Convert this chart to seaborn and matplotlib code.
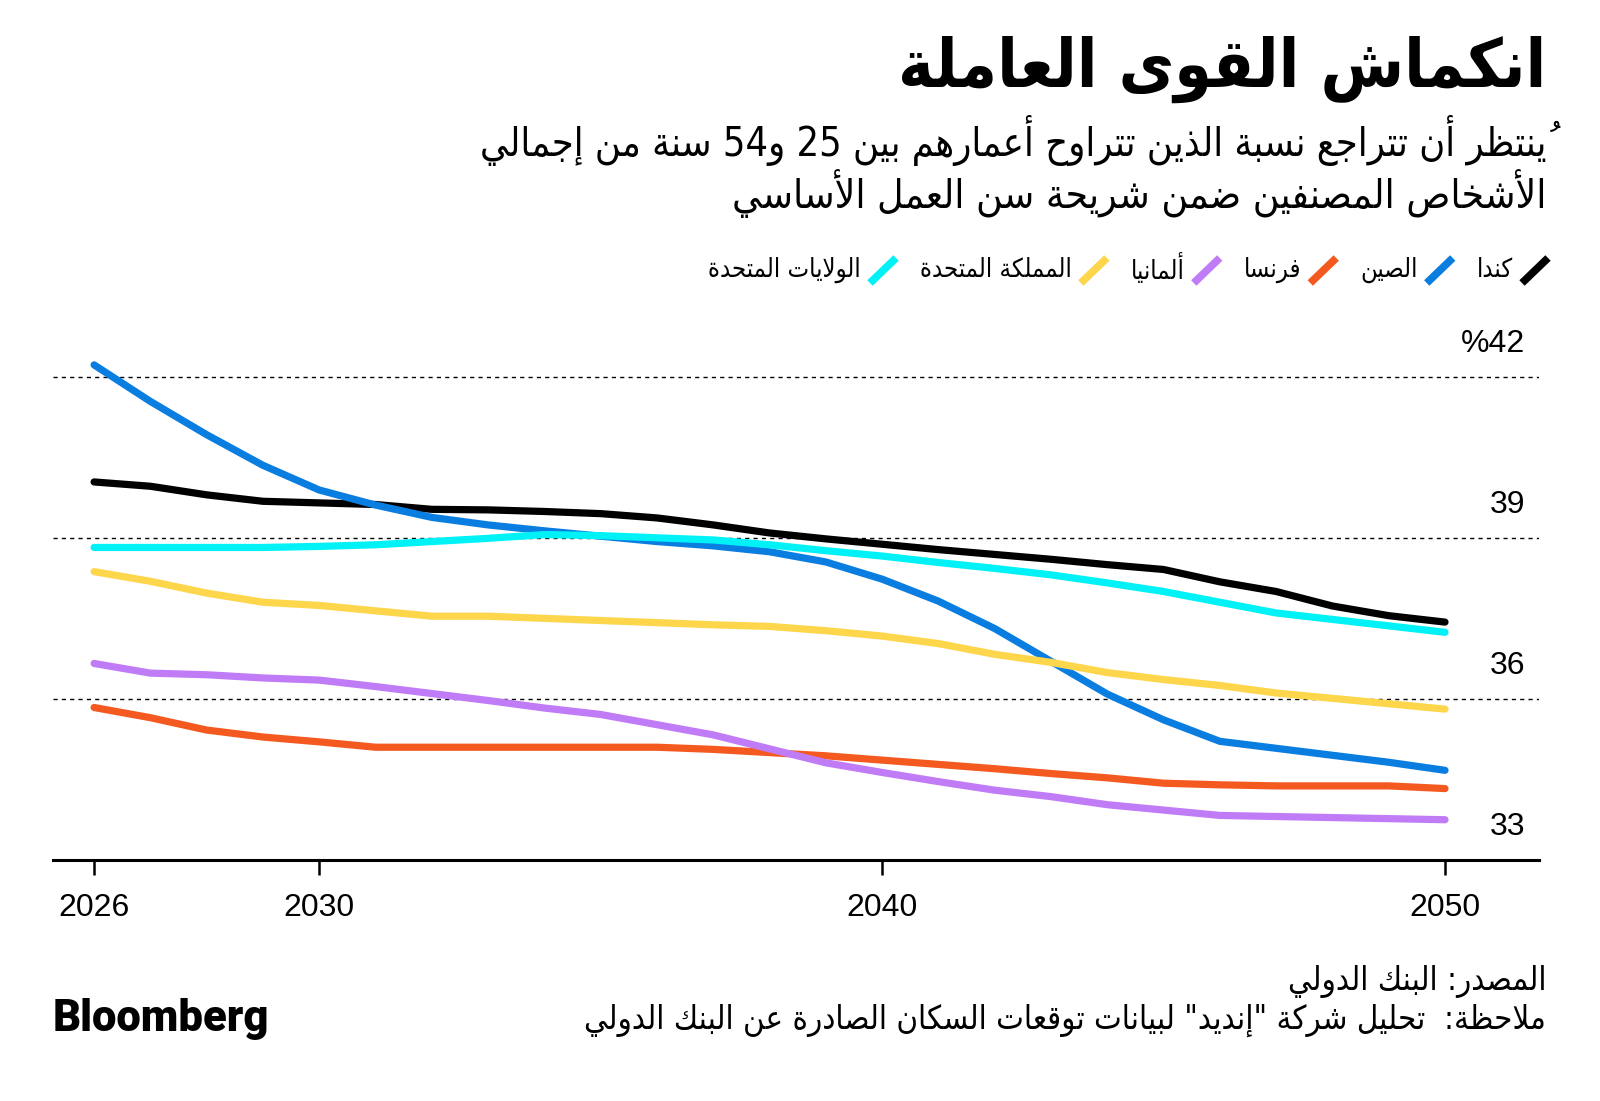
import os
import numpy as np
import pandas as pd
import matplotlib
matplotlib.use("Agg")
import matplotlib.pyplot as plt
import seaborn as sns
from matplotlib.lines import Line2D
from matplotlib import font_manager as fm

# ---------------- data ----------------
years = list(range(2026, 2051))
canada = [40.04, 39.96, 39.80, 39.68, 39.65, 39.62, 39.53, 39.52, 39.49, 39.45, 39.37, 39.24, 39.09,
          38.98, 38.88, 38.78, 38.69, 38.60, 38.50, 38.41, 38.18, 38.00, 37.73, 37.55, 37.43]
china = [42.22, 41.54, 40.92, 40.35, 39.89, 39.61, 39.38, 39.24, 39.13, 39.03, 38.93, 38.85, 38.74,
         38.55, 38.23, 37.82, 37.31, 36.70, 36.09, 35.61, 35.21, 35.08, 34.95, 34.82, 34.67]
france = [35.84, 35.65, 35.42, 35.29, 35.20, 35.10, 35.10, 35.10, 35.10, 35.10, 35.10, 35.06, 35.00,
          34.94, 34.86, 34.78, 34.70, 34.61, 34.53, 34.43, 34.40, 34.38, 34.38, 34.38, 34.33]
germany = [36.66, 36.48, 36.45, 36.39, 36.35, 36.23, 36.10, 35.97, 35.83, 35.71, 35.52, 35.33, 35.07,
           34.81, 34.63, 34.46, 34.30, 34.18, 34.03, 33.93, 33.83, 33.81, 33.79, 33.77, 33.75]
uk = [38.37, 38.19, 37.97, 37.80, 37.74, 37.64, 37.54, 37.54, 37.50, 37.46, 37.42, 37.38, 37.35,
      37.27, 37.17, 37.03, 36.83, 36.68, 36.49, 36.36, 36.25, 36.11, 36.01, 35.91, 35.81]
us = [38.82, 38.82, 38.82, 38.82, 38.84, 38.87, 38.93, 38.99, 39.06, 39.04, 39.00, 38.96, 38.87,
      38.76, 38.66, 38.54, 38.43, 38.31, 38.16, 38.00, 37.80, 37.60, 37.48, 37.36, 37.24]

countries = ["كندا", "الصين", "فرنسا", "ألمانيا", "المملكة المتحدة", "الولايات المتحدة"]
series = [canada, china, france, germany, uk, us]
colors = ["#000000", "#0a7de0", "#f45a1f", "#c07cf6", "#fdd64b", "#00f2f7"]

x_ticks = [2026, 2030, 2040, 2050]
x_tick_labels = ["2026", "2030", "2040", "2050"]
y_ticks = [33, 36, 39, 42]
y_tick_labels = ["33", "36", "39", "%42"]

title = "انكماش القوى العاملة"
subtitle1 = "يُنتظر أن تتراجع نسبة الذين تتراوح أعمارهم بين 25 و54 سنة من إجمالي"
subtitle2 = "الأشخاص المصنفين ضمن شريحة سن العمل الأساسي"
source = "المصدر: البنك الدولي"
note = 'ملاحظة:  تحليل شركة "إنديد" لبيانات توقعات السكان الصادرة عن البنك الدولي'
brand = "Bloomberg"

# ---------------- Arabic shaping (presentation forms + visual order) ----------------
_letters = list(range(0x0621, 0x063B)) + list(range(0x0641, 0x064B))
_counts = [1, 2, 2, 2, 2, 4, 2, 4, 2, 4, 4, 4, 4, 4, 2, 2, 2, 2, 4, 4, 4, 4, 4, 4, 4, 4,
           4, 4, 4, 4, 4, 4, 4, 2, 2, 4]
FORMS = {}
_c = 0xFE80
for _L, _n in zip(_letters, _counts):
    FORMS[chr(_L)] = [chr(_c + k) for k in range(_n)]
    _c += _n
LAM_ALEF = {"\u0622": ("\uFEF5", "\uFEF6"), "\u0623": ("\uFEF7", "\uFEF8"),
            "\u0625": ("\uFEF9", "\uFEFA"), "\u0627": ("\uFEFB", "\uFEFC")}


def is_mark(ch):
    return 0x064B <= ord(ch) <= 0x065F or ord(ch) == 0x0670


def nforms(ch):
    return len(FORMS.get(ch, [])) if ch else 0


def shape(s):
    chars = list(s)
    out = list(chars)
    base = [i for i, ch in enumerate(chars) if not is_mark(ch)]
    for k, i in enumerate(base):
        ch = chars[i]
        if ch not in FORMS or out[i] == "":
            continue
        prev = chars[base[k - 1]] if k > 0 else None
        nxt = chars[base[k + 1]] if k + 1 < len(base) else None
        jp = prev is not None and nforms(prev) == 4 and nforms(ch) >= 2
        jn = nforms(ch) == 4 and nxt is not None and nforms(nxt) >= 2
        if ch == "\u0644" and nxt in LAM_ALEF:
            out[i] = LAM_ALEF[nxt][1 if jp else 0]
            out[base[k + 1]] = ""
            continue
        f = FORMS[ch]
        if jp and jn:
            out[i] = f[3]
        elif jp:
            out[i] = f[1]
        elif jn:
            out[i] = f[2]
        else:
            out[i] = f[0]
    return out


def ar(s):
    parts = shape(s)
    clusters = []
    for orig, p in zip(s, parts):
        if is_mark(orig) and clusters:
            clusters[-1][1] += p
            continue
        clusters.append([orig, p])
    runs = []
    for orig, p in clusters:
        ltr = orig.isdigit() or (orig.isascii() and orig.isalpha())
        if runs and runs[-1][0] == ltr:
            runs[-1][1].append(p)
        else:
            runs.append([ltr, [p]])
    out = []
    for ltr, ps in reversed(runs):
        out.append("".join(ps) if ltr else "".join(reversed(ps)))
    return "".join(out)


# ---------------- fonts ----------------
def font_file(name):
    for f in fm.fontManager.ttflist:
        if os.path.basename(f.fname) == name:
            return f.fname
    return None


def fprop(cond_name, weight):
    fn = font_file(cond_name)
    if fn:
        return fm.FontProperties(fname=fn)
    return fm.FontProperties(family="DejaVu Sans", weight=weight)


def heavy_font():
    for fam in ["Roboto", "Inter", "Lato", "Liberation Sans"]:
        cands = [f for f in fm.fontManager.ttflist
                 if f.name == fam and f.style == "normal"
                 and isinstance(f.weight, int) and f.weight >= 800
                 and "condensed" not in str(f.stretch)]
        if cands:
            cands.sort(key=lambda f: -f.weight)
            return fm.FontProperties(fname=cands[0].fname)
    return fm.FontProperties(family=["Liberation Sans", "DejaVu Sans"], weight="bold")


ar_reg = fprop("DejaVuSansCondensed.ttf", "normal")
ar_bold = fprop("DejaVuSansCondensed-Bold.ttf", "bold")
num_font = fm.FontProperties(family=["Liberation Sans", "DejaVu Sans"])
brand_font = heavy_font()

# ---------------- figure ----------------
sns.set_theme(style="white")
plt.rcParams["font.family"] = ["Liberation Sans", "DejaVu Sans"]

W, H = 1600, 1101
fig = plt.figure(figsize=(W / 100, H / 100), dpi=100)
fig.patch.set_facecolor("white")
renderer = fig.canvas.get_renderer()


def px(x, y):
    return x / W, 1 - y / H


def fit_text(s, x, y, width, fp, ha="right", va="center", color="black", size0=20):
    t = fig.text(*px(x, y), s, ha=ha, va=va, color=color)
    t.set_fontproperties(fp)
    t.set_fontsize(size0)
    w = t.get_window_extent(renderer).width
    t.set_fontsize(size0 * width / w)
    return t


# axes placement
y_lo, y_hi = 33, 42.75
ax_left, ax_right = 53, 1539
ax_bottom = 860
ppu = 53.7
ax_top = ax_bottom - (y_hi - y_lo) * ppu
ax = fig.add_axes([ax_left / W, 1 - ax_bottom / H, (ax_right - ax_left) / W, (ax_bottom - ax_top) / H])

df = pd.DataFrame({
    "year": np.tile(years, len(countries)),
    "value": np.concatenate([np.array(s) for s in series]),
    "country": np.repeat(countries, len(years)),
})
sns.lineplot(data=df, x="year", y="value", hue="country", hue_order=countries,
             palette=dict(zip(countries, colors)), linewidth=5.2, legend=False,
             solid_capstyle="round", ax=ax)

ax.set_xlim(2025.27, 2051.67)
ax.set_ylim(y_lo, y_hi)
ax.set_xlabel("")
ax.set_ylabel("")
for side in ["top", "left", "right"]:
    ax.spines[side].set_visible(False)
ax.spines["bottom"].set_color("black")
ax.spines["bottom"].set_linewidth(2.2)
ax.set_facecolor("white")

ax.set_xticks(x_ticks)
ax.set_xticklabels(x_tick_labels)
ax.tick_params(axis="x", direction="out", length=11, width=1.8, color="black", pad=13,
               labelsize=23, labelcolor="black", bottom=True)
for lab in ax.get_xticklabels():
    lab.set_fontproperties(num_font)
    lab.set_fontsize(23)

ax.set_yticks(y_ticks)
ax.tick_params(axis="y", left=False, labelleft=False)
ax.yaxis.grid(True, color="black", linestyle=(0, (3, 3)), linewidth=1.0)
ax.xaxis.grid(False)
for v, lab in zip(y_ticks, y_tick_labels):
    t = ax.annotate(lab, xy=(1, v), xycoords=("axes fraction", "data"),
                    xytext=(-14, 33), textcoords="offset pixels",
                    ha="right", va="center", color="black")
    t.set_fontproperties(num_font)
    t.set_fontsize(23)

# ---------------- texts ----------------
fit_text(ar(title), 1546, 69, 648, ar_bold)
fit_text(ar(subtitle1), 1546, 141, 1066, ar_reg)
fit_text(ar(subtitle2), 1546, 194, 813, ar_reg)

# legend
probe = fig.text(0, 0, ar(countries[4]))
probe.set_fontproperties(ar_reg)
probe.set_fontsize(20)
leg_size = 20 * 152 / probe.get_window_extent(renderer).width
probe.remove()

lx = 1548
ly = 270
for name, col in zip(countries, colors):
    x1 = lx
    x0 = lx - 26
    fig.add_artist(Line2D([x0 / W, x1 / W], [1 - 283 / H, 1 - 258 / H], color=col,
                          lw=5.5, solid_capstyle="butt", transform=fig.transFigure))
    t = fig.text(*px(x0 - 9, ly), ar(name), ha="right", va="center", color="black")
    t.set_fontproperties(ar_reg)
    t.set_fontsize(leg_size)
    w = t.get_window_extent(renderer).width
    lx = x0 - 9 - w - 24

# footer
t_note = fit_text(ar(note), 1546, 1020, 959, ar_reg)
t_src = fig.text(*px(1546, 981), ar(source), ha="right", va="center", color="black")
t_src.set_fontproperties(ar_reg)
t_src.set_fontsize(t_note.get_fontsize())
fit_text(brand, 53, 1019, 217, brand_font, ha="left")

fig.savefig("out.png", dpi=100, facecolor="white")
